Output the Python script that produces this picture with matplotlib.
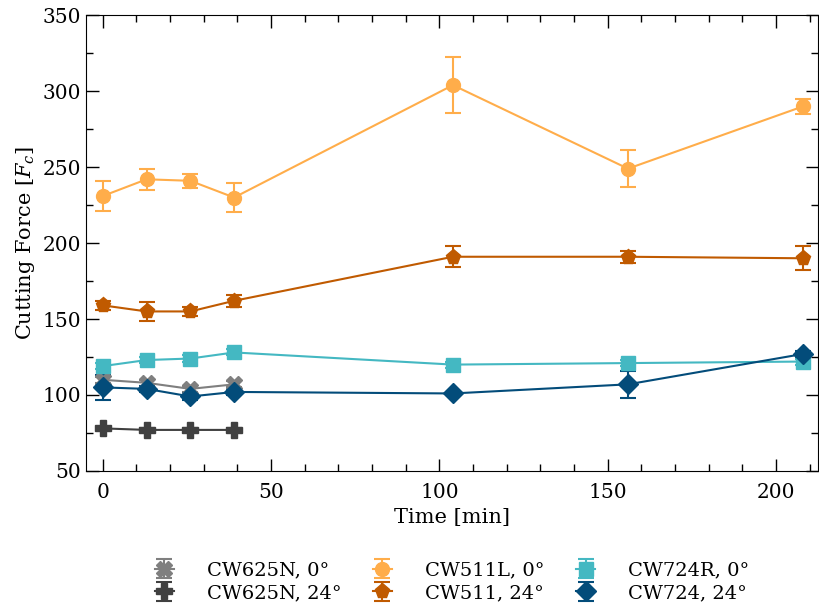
import matplotlib.pyplot as plt
from matplotlib.ticker import MultipleLocator

plt.rcParams['font.family'] = 'DejaVu Serif'
plt.rcParams['mathtext.fontset'] = 'dejavuserif'
plt.rcParams['font.size'] = 14

# time stamps [min]
t_short = [0, 13, 26, 39]
t_long = [0, 13, 26, 39, 104, 156, 208]

# CW625N
cw625n_0 = [110, 108, 104, 107]
cw625n_0_err = [2, 2, 2, 2]
cw625n_24 = [78, 77, 77, 77]
cw625n_24_err = [1, 1, 1, 1]

# CW511
cw511l_0 = [231, 242, 241, 230, 304, 249, 290]
cw511l_0_err = [10, 7, 4.5, 9.5, 18.5, 12, 5]
cw511_24 = [159, 155, 155, 162, 191, 191, 190]
cw511_24_err = [3, 6, 3, 4, 7, 4, 8]

# CW724
cw724r_0 = [119, 123, 124, 128, 120, 121, 122]
cw724r_0_err = [2, 2, 2, 2, 2, 2, 2]
cw724_24 = [105, 104, 99, 102, 101, 107, 127]
cw724_24_err = [8, 2, 2, 2, 1, 9, 2]

series = [
    (t_short, cw625n_0, cw625n_0_err, 'X', 12, '#7f7f7f', 'CW625N, 0°'),
    (t_short, cw625n_24, cw625n_24_err, 'P', 12, '#404040', 'CW625N, 24°'),
    (t_long, cw511l_0, cw511l_0_err, 'o', 10, '#ffad4a', 'CW511L, 0°'),
    (t_long, cw511_24, cw511_24_err, 'p', 11, '#c05a00', 'CW511, 24°'),
    (t_long, cw724r_0, cw724r_0_err, 's', 10, '#44b8c2', 'CW724R, 0°'),
    (t_long, cw724_24, cw724_24_err, 'D', 10, '#034c7a', 'CW724, 24°'),
]

fig = plt.figure(figsize=(8.19, 6.10), dpi=100)
ax = fig.add_axes([0.105, 0.228, 0.894, 0.747])

for t, y, err, m, ms, c, lab in series:
    ax.errorbar(t, y, yerr=err, marker=m, color=c, markersize=ms, lw=1.5,
                capsize=6, capthick=1.5, elinewidth=1.5, label=lab)

ax.set_xlim(-5, 212.5)
ax.set_ylim(50, 350)
ax.xaxis.set_major_locator(MultipleLocator(50))
ax.xaxis.set_minor_locator(MultipleLocator(10))
ax.yaxis.set_major_locator(MultipleLocator(50))
ax.yaxis.set_minor_locator(MultipleLocator(25))
ax.tick_params(which='both', direction='in', top=True, right=True,
               labelsize=14.5)
ax.tick_params(which='major', length=9, width=1)
ax.tick_params(which='minor', length=5, width=1)
ax.tick_params(axis='x', pad=9)

ax.set_xlabel('Time [min]', fontsize=15)
ax.set_ylabel('Cutting Force [$F_c$]', fontsize=15)

ax.legend(loc='upper center', bbox_to_anchor=(0.5, -0.16), ncol=3,
          frameon=False, handlelength=1.0, handletextpad=1.7,
          columnspacing=1.6, labelspacing=0.25)

fig.savefig('out.png', dpi=100)
